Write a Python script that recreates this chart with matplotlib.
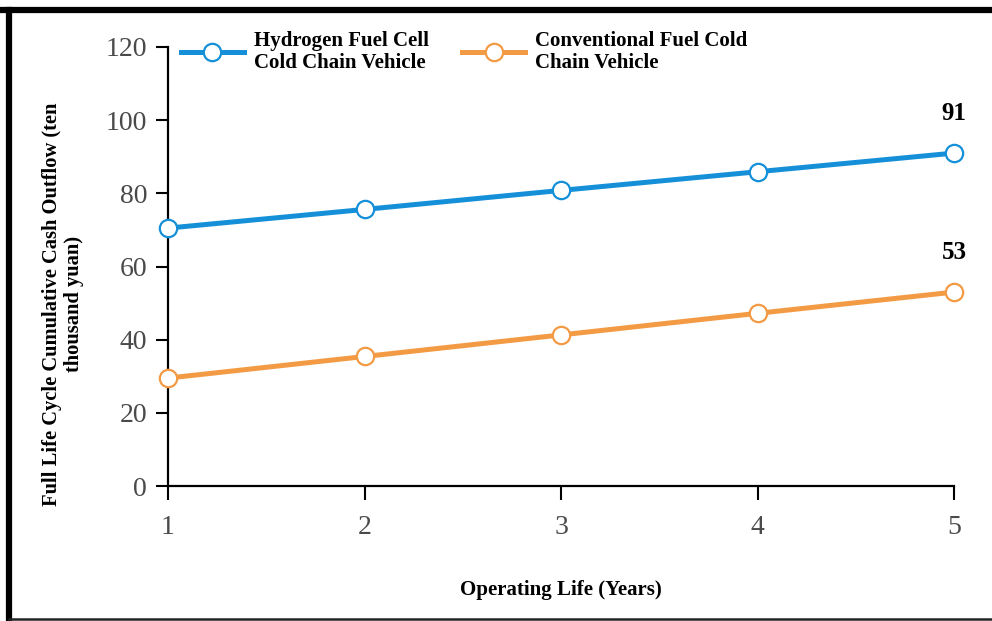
import matplotlib.pyplot as plt
from matplotlib.lines import Line2D

# Data
years = [1, 2, 3, 4, 5]
hydrogen = [70.5, 75.6, 80.8, 85.9, 91]
conventional = [29.5, 35.4, 41.3, 47.2, 53]
y_ticks = [0, 20, 40, 60, 80, 100, 120]
labels = ['Hydrogen Fuel Cell\nCold Chain Vehicle', 'Conventional Fuel Cold\nChain Vehicle']

blue = '#1590d8'
orange = '#f39a45'

plt.rcParams['font.family'] = ['Liberation Serif', 'DejaVu Serif']

fig = plt.figure(figsize=(9.92, 6.21), dpi=100)
ax = fig.add_axes([168/992, 1 - 486/621, (954 - 168)/992, (486 - 47)/621])

ax.plot(years, hydrogen, color=blue, lw=3.6, marker='o', ms=12.5, mfc='white',
        mec=blue, mew=1.6, label=labels[0], clip_on=False, zorder=3)
ax.plot(years, conventional, color=orange, lw=3.6, marker='o', ms=12.5, mfc='white',
        mec=orange, mew=1.6, label=labels[1], clip_on=False, zorder=3)

# end labels
for vals in (hydrogen, conventional):
    ax.annotate(f'{vals[-1]:g}', (years[-1], vals[-1]), xytext=(0, 20),
                textcoords='offset points', ha='center', va='bottom',
                fontsize=18, fontweight='bold')

ax.set_xlim(1, 5)
ax.set_ylim(0, 120)
ax.set_xticks(years)
ax.set_yticks(y_ticks)
ax.tick_params(axis='both', labelsize=20, labelcolor='#4a4a4a', width=1.5)
ax.tick_params(axis='y', direction='out', length=9, pad=6)
ax.tick_params(axis='x', direction='out', length=10, pad=11)
for s in ['top', 'right']:
    ax.spines[s].set_visible(False)
for s in ['left', 'bottom']:
    ax.spines[s].set_linewidth(1.6)

ax.set_xlabel('Operating Life (Years)', fontsize=15, fontweight='bold', labelpad=29)
ax.set_ylabel('Full Life Cycle Cumulative Cash Outflow (ten\nthousand yuan)',
              fontsize=14.8, fontweight='bold', linespacing=1.1)
ax.yaxis.set_label_coords(-0.107, 0.415)

leg = ax.legend(loc='upper left', bbox_to_anchor=(-0.007, 1.08), ncol=2, frameon=False,
                prop={'weight': 'bold', 'size': 15}, handlelength=3.0,
                columnspacing=1.6, handletextpad=0.5, labelspacing=0.2)
for t in leg.get_texts():
    t.set_linespacing(1.15)

# outer frame: thick top and left, thin bottom
fig.add_artist(Line2D([0, 1], [1 - 10/621] * 2, transform=fig.transFigure, color='black', lw=4.5))
fig.add_artist(Line2D([9/992] * 2, [1 - 10/621, 1 - 618/621], transform=fig.transFigure, color='black', lw=4.5))
fig.add_artist(Line2D([9/992, 1], [1 - 618.5/621] * 2, transform=fig.transFigure, color='#222222', lw=1.8))

fig.savefig('out.png', dpi=100)
